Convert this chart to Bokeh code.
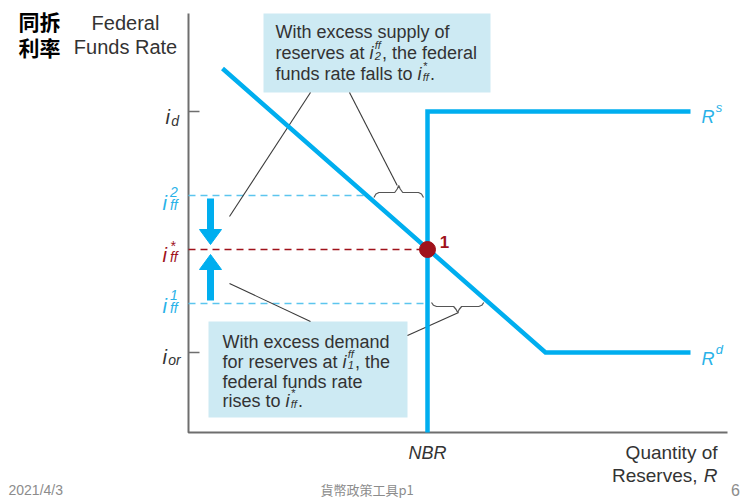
from bokeh.plotting import figure
from bokeh.models import Range1d
from bokeh.core.properties import value
from bokeh.embed import file_html
from bokeh.resources import INLINE

# ---------------- data (chart units; origin = axes intersection) ----------------
rate_names = ["i_d", "i_ff^2", "i_ff^*", "i_ff^1", "i_or"]
rate_levels = [321, 237, 183, 129, 80]          # federal funds rate levels
nbr = 239                                        # non-borrowed reserves
supply_x = [239, 239, 502]                       # R^s curve
supply_y = [0, 321, 321]
demand_x = [34, 357, 502]                        # R^d curve
demand_y = [364, 80, 80]
eq_x = [239]                                     # equilibrium point 1
eq_y = [183]
axis_top = 419
axis_right = 539

i_d, i_ff2, i_ffs, i_ff1, i_or = rate_levels

# ---------------- styles ----------------
SANS = "Liberation Sans"
CJK = "Noto Sans CJK TC"
BLUE = "#00AEEF"
DBLUE = "#5CC5EE"
RED = "#A0121B"
AXC = "#6E6E6E"
TXT = "#333333"
BOXC = "#CDEAF3"
FOOT = "#8C8C8C"

AW = {' ': 278, ',': 278, '.': 278, '*': 389, '/': 278,
      'a': 556, 'b': 556, 'c': 500, 'd': 556, 'e': 556, 'f': 278, 'g': 556, 'h': 556,
      'i': 222, 'j': 222, 'k': 500, 'l': 222, 'm': 833, 'n': 556, 'o': 556, 'p': 556,
      'q': 556, 'r': 333, 's': 500, 't': 278, 'u': 556, 'v': 500, 'w': 722, 'x': 500,
      'y': 500, 'z': 500, 'W': 944, 'R': 722, 'N': 722, 'B': 667, 'Q': 778, 'F': 611}


def tw(s, size):
    return sum(AW.get(c, 556) for c in s) * size / 1000.0


def demand_at(r):
    x0, y0, x1, y1 = demand_x[0], demand_y[0], demand_x[1], demand_y[1]
    return x0 + (y0 - r) * (x1 - x0) / (y0 - y1)


p = figure(width=742, height=500, x_range=Range1d(-188, 554), y_range=Range1d(-68, 432),
           x_axis_location=None, y_axis_location=None, toolbar_location=None, tools="",
           output_backend="svg", min_border=0, outline_line_color=None,
           background_fill_color="white", border_fill_color="white")
p.grid.visible = False


def txt(x, y, s, size, color=TXT, style="normal", align="left", baseline="alphabetic", font=SANS):
    p.text(x=[x], y=[y], text=[s], text_font=value(font), text_font_size=value(f"{size}px"),
           text_font_style=value(style), text_color=value(color), text_align=value(align),
           text_baseline=value(baseline))


def rich(x, y, parts, size=18, color=TXT, small=None, sup_dy=0.42, sub_dy=-0.22, gap=1.2):
    small = small or size * 0.62
    for kind, a, b in parts:
        if kind == "n":
            txt(x, y, a, size, color)
            x += tw(a, size)
        elif kind == "i":
            txt(x, y, a, size, color, "italic")
            x += tw(a, size) + gap
        else:
            if a:
                txt(x, y + size * sup_dy, a, small, color, "italic")
            if b:
                txt(x, y + size * sub_dy, b, small, color, "italic")
            x += max(tw(a, small), tw(b, small)) + 1
    return x


# ---------------- callout boxes ----------------
p.quad(left=[75], right=[302], bottom=[340], top=[419], fill_color=BOXC, line_color=None)
p.quad(left=[20], right=[219], bottom=[15], top=[111], fill_color=BOXC, line_color=None)

# ---------------- axes ----------------
p.line([0, 0, axis_right], [axis_top, 0, 0], line_color=AXC, line_width=2)
p.segment(x0=[0, 0], y0=[i_d, i_or], x1=[11, 11], y1=[i_d, i_or], line_color=AXC, line_width=1.5)

# ---------------- dashed guide lines ----------------
p.segment(x0=[0, 0], y0=[i_ff2, i_ff1], x1=[demand_at(i_ff2), nbr], y1=[i_ff2, i_ff1],
          line_color=DBLUE, line_width=1.6, line_dash="7 5")
p.segment(x0=[0], y0=[i_ffs], x1=[nbr], y1=[i_ffs], line_color=RED, line_width=1.6, line_dash="7 5")

# ---------------- callout pointer lines ----------------
ax = 22
tb_x = demand_at(i_ff2) + (nbr - demand_at(i_ff2)) / 2
bb_x = nbr + (demand_at(i_ff1) - nbr) / 2
p.segment(x0=[122, 161, 41, 219], y0=[340, 340, 149, 97],
          x1=[41, tb_x, 122, bb_x], y1=[216, i_ff2 + 10, 111, i_ff1 - 9],
          line_color="#3A3A3A", line_width=1.1)

# braces
def brace(xa, xb, y_end, y_main, y_tip):
    xm = (xa + xb) / 2
    xs = [xa, xa + 2, xa + 5, xm - 4, xm - 1.5, xm, xm + 1.5, xm + 4, xb - 5, xb - 2, xb]
    ys = [y_end, y_main + (y_end - y_main) * 0.3, y_main, y_main, y_main + (y_tip - y_main) * 0.5, y_tip,
          y_main + (y_tip - y_main) * 0.5, y_main, y_main, y_main + (y_end - y_main) * 0.3, y_end]
    p.line(xs, ys, line_color="#555555", line_width=1.2)

brace(demand_at(i_ff2) + 7, nbr - 4, i_ff2 - 2, i_ff2 + 3, i_ff2 + 10)
brace(nbr + 4, demand_at(i_ff1) - 6, i_ff1 + 1, i_ff1 - 3, i_ff1 - 9)

# ---------------- curves ----------------
p.line(supply_x, supply_y, line_color=BLUE, line_width=4.5, line_join="miter")
p.line(demand_x, demand_y, line_color=BLUE, line_width=4.5, line_join="miter")
p.scatter(eq_x, eq_y, size=16, fill_color=RED, line_color=RED)
txt(eq_x[0] + 17, eq_y[0] + 8, "1", 17, RED, "bold", "center", "middle")

# ---------------- arrows ----------------
p.segment(x0=[ax, ax], y0=[i_ff2 - 3, i_ff1 + 3], x1=[ax, ax], y1=[i_ffs + 19, i_ffs - 19],
          line_color=BLUE, line_width=7)
p.patches(xs=[[ax - 11, ax + 11, ax], [ax - 11, ax + 11, ax]],
          ys=[[i_ffs + 20, i_ffs + 20, i_ffs + 5], [i_ffs - 20, i_ffs - 20, i_ffs - 5]],
          fill_color=BLUE, line_color=BLUE)

# ---------------- axis labels ----------------
rich(-23, i_d - 5, [("i", "i", None), ("ss", "", "d")], size=20, small=14, sub_dy=-0.2)
rich(-26, i_or - 4, [("i", "i", None), ("ss", "", "or")], size=20, small=14, sub_dy=-0.18)
rich(-26, i_ff2 - 7, [("i", "i", None), ("ss", "2", "ff")], size=20, small=14,
     color="#29B2E8", sup_dy=0.55, sub_dy=-0.12, gap=3)
rich(-26, i_ffs - 5, [("i", "i", None), ("ss", "*", "ff")], size=20, small=14,
     color=RED, sup_dy=0.45, sub_dy=-0.12, gap=3)
rich(-26, i_ff1 - 2, [("i", "i", None), ("ss", "1", "ff")], size=20, small=14,
     color="#29B2E8", sup_dy=0.55, sub_dy=-0.12, gap=3)

rich(supply_x[-1] + 11, i_d - 5, [("i", "R", None), ("ss", "s", "")], size=18, small=13,
     color="#29B2E8", sup_dy=0.5)
rich(demand_x[-1] + 11, i_or - 6, [("i", "R", None), ("ss", "d", "")], size=18, small=13,
     color="#29B2E8", sup_dy=0.5)

txt(-63, 410, "Federal", 20, TXT, align="center", baseline="middle")
txt(-63, 386, "Funds Rate", 20, TXT, align="center", baseline="middle")
txt(-170, 412, "同拆", 21, "#000000", "bold", baseline="middle", font=CJK)
txt(-170, 386, "利率", 21, "#000000", "bold", baseline="middle", font=CJK)

txt(nbr, -20, "NBR", 18, TXT, "italic", "center", "middle")
txt(529, -20, "Quantity of", 19, TXT, align="right", baseline="middle")
txt(529, -43, "R", 19, TXT, "italic", "right", "middle")
txt(529 - tw("R", 19) - 1, -43, "Reserves, ", 19, TXT, align="right", baseline="middle")

# ---------------- callout texts ----------------
rich(87, 401, [("n", "With excess supply of", None)])
rich(87, 380, [("n", "reserves at ", None), ("i", "i", None), ("ss", "ff", "2"),
               ("n", ", the federal", None)])
rich(87, 359, [("n", "funds rate falls to ", None), ("i", "i", None), ("ss", "*", "ff"), ("n", ".", None)])

rich(34, 91, [("n", "With excess demand", None)])
rich(34, 71, [("n", "for reserves at ", None), ("i", "i", None), ("ss", "ff", "1"), ("n", ", the", None)])
rich(34, 51, [("n", "federal funds rate", None)])
rich(34, 32, [("n", "rises to ", None), ("i", "i", None), ("ss", "*", "ff"), ("n", ".", None)])

# ---------------- slide footer ----------------
txt(-180, -57, "2021/4/3", 14, FOOT, baseline="middle", font=SANS)
txt(132, -57, "貨幣政策工具p1", 13, FOOT, baseline="middle", font=CJK)
txt(547, -57, "6", 16, FOOT, align="center", baseline="middle", font=SANS)

open("out.html", "w").write(file_html(p, INLINE))
